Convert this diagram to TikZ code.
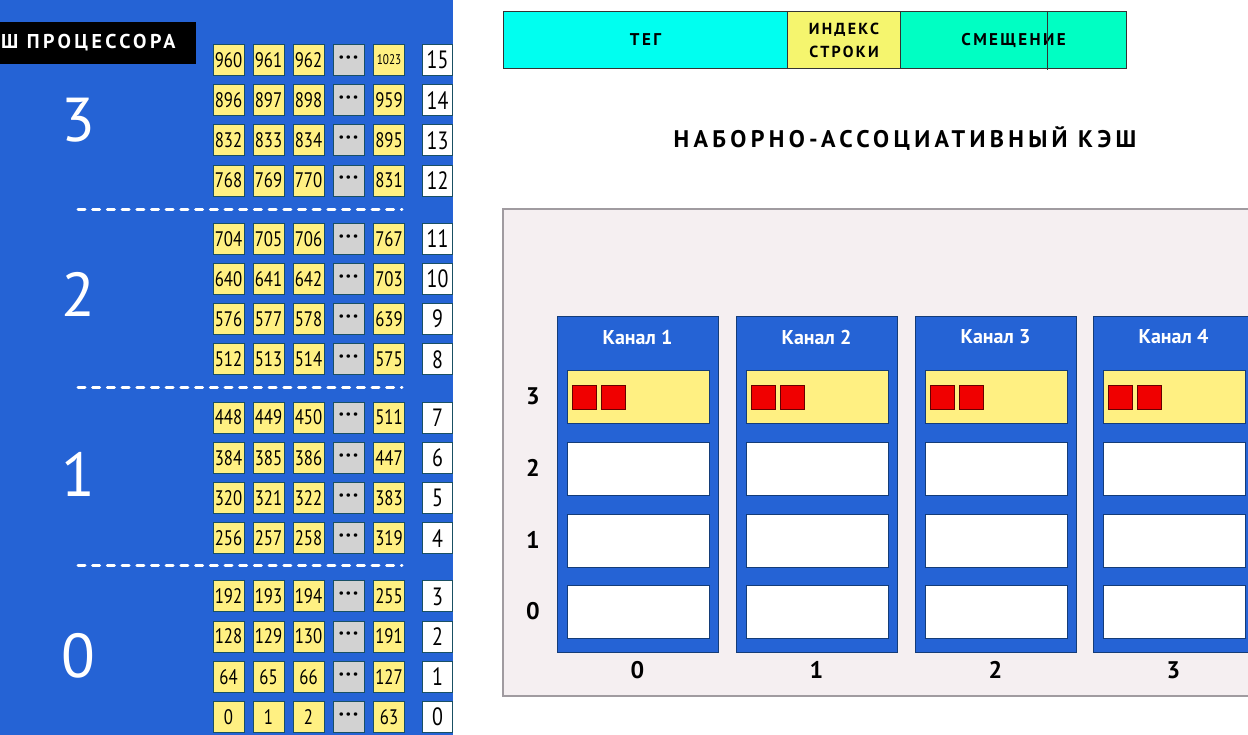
\documentclass[tikz,border=0pt]{standalone}
\usepackage{fontspec}
\setmainfont{PT Sans}
\newfontfamily\narrowfont[FakeStretch=0.8]{PT Sans}
\newfontfamily\spacedfont[LetterSpace=14]{PT Sans}
\newfontfamily\cpufont[LetterSpace=17]{PT Sans}
\newfontfamily\widefont[LetterSpace=18]{PT Sans}
\definecolor{panelblue}{RGB}{37,99,213}
\definecolor{cellyellow}{RGB}{255,240,130}
\definecolor{celledge}{RGB}{25,80,100}
\definecolor{cellgray}{RGB}{210,210,210}
\definecolor{tagcyan}{RGB}{0,255,240}
\definecolor{idxyellow}{RGB}{245,245,110}
\definecolor{offgreen}{RGB}{0,255,195}
\definecolor{bgpink}{RGB}{245,239,241}
\definecolor{bordergray}{RGB}{160,155,160}
\definecolor{wayedge}{RGB}{20,60,120}
\definecolor{slotred}{RGB}{240,0,0}
\tikzset{
  cell/.style={draw=celledge, fill=cellyellow, line width=1pt, minimum width=31pt, minimum height=31pt, inner sep=0pt, text=black, font=\fontsize{21}{21}\selectfont\narrowfont},
  dotcell/.style={cell, fill=cellgray, font=\normalfont\fontsize{22}{22}\selectfont\bfseries},
  idxcell/.style={draw=celledge, fill=white, line width=1pt, minimum width=30pt, minimum height=31pt, inner sep=0pt, font=\fontsize{25}{25}\selectfont\narrowfont},
  bignum/.style={text=white, font=\fontsize{62}{62}\selectfont},
  grpline/.style={draw=white, line width=3pt, line cap=round, dash pattern=on 7pt off 7.7pt},
  barpart/.style={draw=black!80, line width=1pt, anchor=north west, minimum height=57pt, inner sep=0pt, align=center, font=\fontsize{17}{19}\selectfont\spacedfont\bfseries},
  waycol/.style={draw=wayedge, fill=panelblue, line width=1pt, anchor=north west, minimum width=161pt, minimum height=336pt, inner sep=0pt},
  slot/.style={draw=wayedge, fill=white, line width=1pt, minimum width=142pt, minimum height=53pt, inner sep=0pt},
  redsq/.style={draw=black!60!red, fill=slotred, line width=0.8pt, minimum size=24pt, inner sep=0pt},
  wayhead/.style={text=white, font=\fontsize{20}{20}\selectfont\bfseries},
  axislabel/.style={text=black, font=\fontsize{24}{24}\selectfont\bfseries}
}
\begin{document}
\begin{tikzpicture}[x=1pt,y=-1pt]
\useasboundingbox (0,0) rectangle (1248,735);
\clip (0,0) rectangle (1248,735);
\fill[white] (0,0) rectangle (1248,735);
% left panel
\fill[panelblue] (0,0) rectangle (453,735);
\node[fill=black, anchor=north west, minimum width=196pt, minimum height=42pt, inner sep=0pt] (cpu) at (0,22) {};
\node[anchor=west, inner sep=0pt, text=white, font=\fontsize{20}{20}\selectfont\cpufont\bfseries] (cputext) at (1,43) {Ш ПРОЦЕССОРА};
\foreach \r in {0,...,15}{
  \pgfmathtruncatemacro\g{int(\r/4)}
  \pgfmathsetmacro\yy{60+(15-\r)*40.2+(3-\g)*18}
  \pgfmathtruncatemacro\a{64*\r}
  \pgfmathtruncatemacro\b{64*\r+1}
  \pgfmathtruncatemacro\c{64*\r+2}
  \pgfmathtruncatemacro\d{64*\r+63}
  \node[cell] (c\r-0) at (228.5,\yy) {\a};
  \node[cell] (c\r-1) at (268.5,\yy) {\b};
  \node[cell] (c\r-2) at (308.5,\yy) {\c};
  \node[dotcell] (c\r-3) at (348.5,\yy) {·\kern1.5pt·\kern1.5pt·};
  \ifnum\r=15
    \node[cell] (c\r-4) at (389,\yy) {\fontsize{14}{14}\selectfont 1023};
  \else
    \node[cell] (c\r-4) at (389,\yy) {\d};
  \fi
  \node[idxcell] (i\r) at (437.5,\yy) {\r};
}
\coordinate (d1a) at (78,210); \coordinate (d1b) at (402,210);
\coordinate (d2a) at (78,387); \coordinate (d2b) at (402,387);
\coordinate (d3a) at (78,565); \coordinate (d3b) at (402,565);
\draw[grpline] (d1a) -- (d1b);
\draw[grpline] (d2a) -- (d2b);
\draw[grpline] (d3a) -- (d3b);
\node[bignum] (g3) at (78,120) {3};
\node[bignum] (g2) at (78,294) {2};
\node[bignum] (g1) at (78,474) {1};
\node[bignum] (g0) at (78,656) {0};
% address bar
\node[barpart, fill=tagcyan, minimum width=284pt] (tag) at (503,11) {ТЕГ};
\node[barpart, fill=idxyellow, minimum width=113pt, font=\fontsize{16}{23}\selectfont\spacedfont\bfseries] (idx) at (787,11) {ИНДЕКС\\СТРОКИ};
\node[barpart, fill=offgreen, minimum width=226pt] (off) at (900,11) {СМЕЩЕНИЕ};
\coordinate (splitT) at (1047,11);
\coordinate (splitB) at (1047,70);
\draw[black!80, line width=1pt] (splitT) -- (splitB);
\node[font=\fontsize{24}{24}\selectfont\widefont\bfseries] (title) at (905,139) {НАБОРНО-АССОЦИАТИВНЫЙ КЭШ};
% cache box
\draw[fill=bgpink, draw=bordergray, line width=2pt] (503,209) rectangle (1262,696);
\foreach \i/\x in {0/557,1/736,2/915,3/1093}{
  \pgfmathtruncatemacro\w{\i+1}
  \node[waycol] (way\i) at (\x,316) {};
  \node[wayhead] (head\i) at (\x+80.5,337) {Канал \w};
  \node[slot, fill=cellyellow] (s\i-3) at (\x+81,397) {};
  \node[slot] (s\i-2) at (\x+81,468.5) {};
  \node[slot] (s\i-1) at (\x+81,540.5) {};
  \node[slot] (s\i-0) at (\x+81,611.5) {};
  \node[redsq] (ra\i) at (\x+27,397) {};
  \node[redsq] (rb\i) at (\x+56,397) {};
  \node[axislabel] (col\i) at (\x+80.5,670) {\i};
}
\node[axislabel] (row3) at (533,396) {3};
\node[axislabel] (row2) at (533,468) {2};
\node[axislabel] (row1) at (533,540) {1};
\node[axislabel] (row0) at (533,611) {0};
\end{tikzpicture}
\end{document}
